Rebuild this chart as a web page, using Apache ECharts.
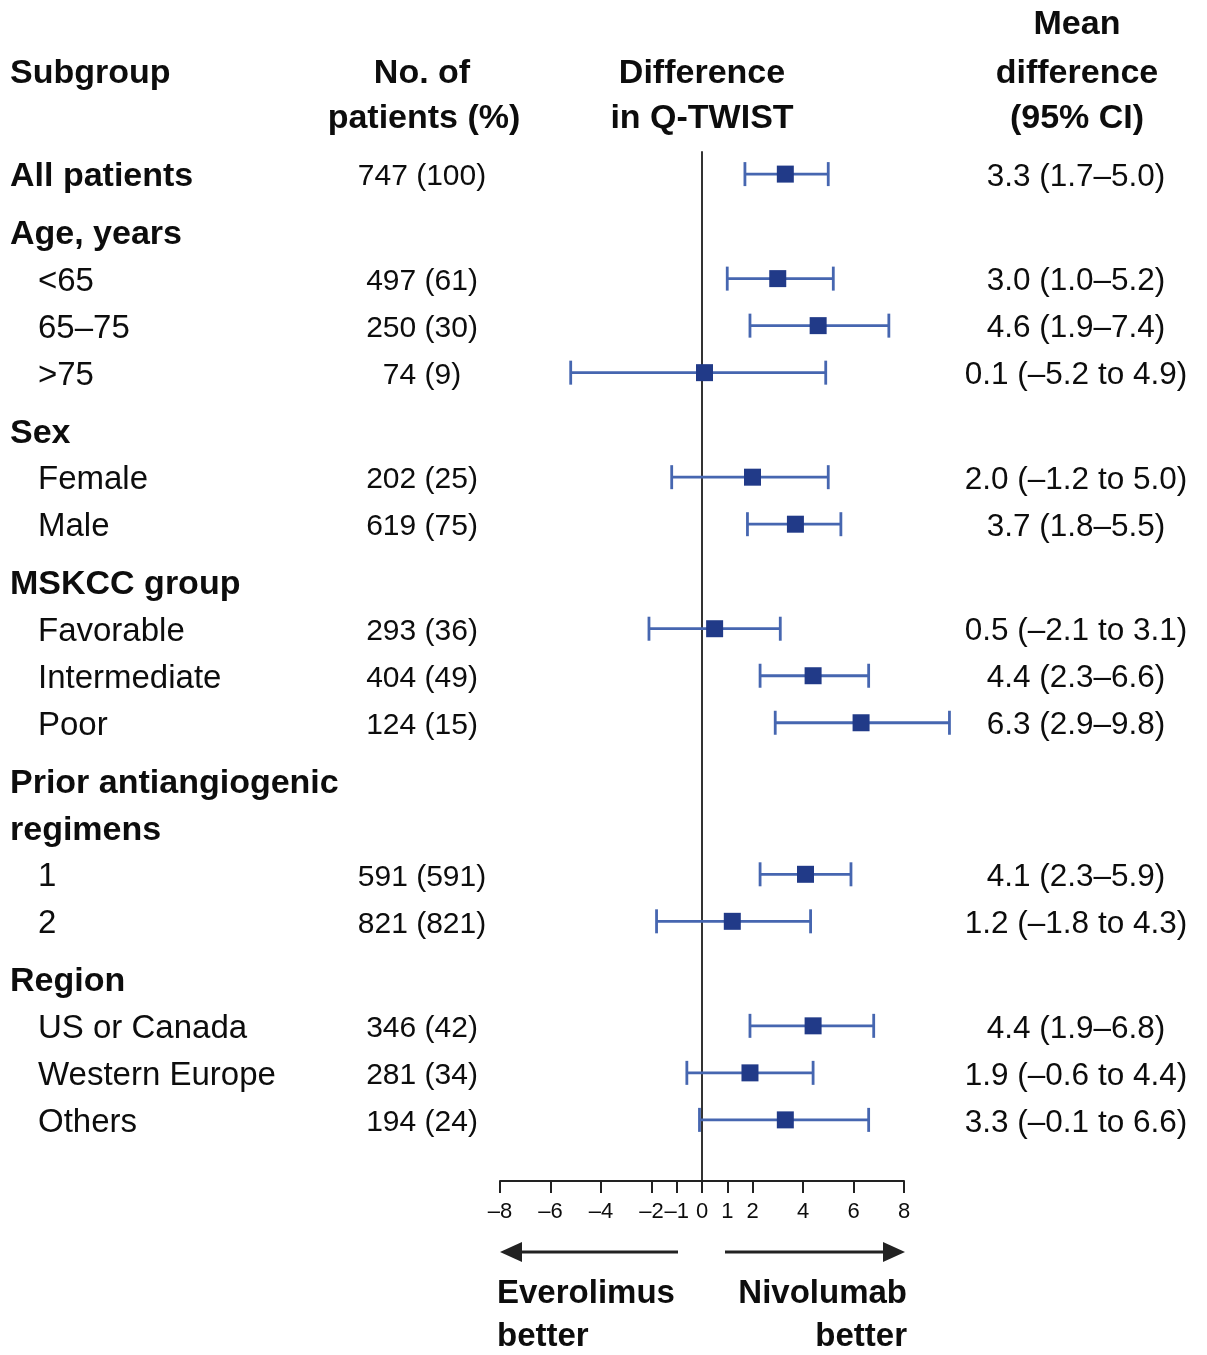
<!DOCTYPE html>
<html>
<head>
<meta charset="utf-8">
<script src="https://cdn.jsdelivr.net/npm/echarts@6/dist/echarts.min.js"></script>
<style>html,body{margin:0;padding:0;background:#fff;}#c{width:1207px;height:1355px;}</style>
</head>
<body>
<div id="c"></div>
<script>
// ---------------- data ----------------
const rowLabels = ['All patients','Age, years','<65','65–75','>75','Sex','Female','Male','MSKCC group','Favorable','Intermediate','Poor','Prior antiangiogenic','regimens','1','2','Region','US or Canada','Western Europe','Others'];
const rowKinds  = ['group','group','sub','sub','sub','group','sub','sub','group','sub','sub','sub','group','cont','sub','sub','group','sub','sub','sub'];
const patients  = ['747 (100)','','497 (61)','250 (30)','74 (9)','','202 (25)','619 (75)','','293 (36)','404 (49)','124 (15)','','','591 (591)','821 (821)','','346 (42)','281 (34)','194 (24)'];
const meanDiff  = [3.3,null,3.0,4.6,0.1,null,2.0,3.7,null,0.5,4.4,6.3,null,null,4.1,1.2,null,4.4,1.9,3.3];
const ciLow     = [1.7,null,1.0,1.9,-5.2,null,-1.2,1.8,null,-2.1,2.3,2.9,null,null,2.3,-1.8,null,1.9,-0.6,-0.1];
const ciHigh    = [5.0,null,5.2,7.4,4.9,null,5.0,5.5,null,3.1,6.6,9.8,null,null,5.9,4.3,null,6.8,4.4,6.6];
const tickValues = [-8,-6,-4,-2,-1,0,1,2,4,6,8];
const xMin = -8, xMax = 8;

// ---------------- layout helpers ----------------
const GAP = 0.223;           // extra space before each group heading (in row units)
let gaps = 0;
const rowPos = rowKinds.map((k, i) => { if (k === 'group' && i > 0) gaps++; return i + GAP * gaps; });
const yMin = -0.47, yMax = rowPos[rowPos.length - 1] + 1.3;

const FONT = '"Liberation Sans", Arial, Helvetica, sans-serif';
const TXT = '#0d0d0d';
const fmtNum = v => (v < 0 ? '–' + Math.abs(v).toFixed(1) : v.toFixed(1));
const ciText = rowLabels.map((_, i) => {
  if (meanDiff[i] == null) return '';
  const lo = ciLow[i], hi = ciHigh[i];
  return lo < 0
    ? meanDiff[i].toFixed(1) + ' (' + fmtNum(lo) + ' to ' + fmtNum(hi) + ')'
    : meanDiff[i].toFixed(1) + ' (' + fmtNum(lo) + '–' + fmtNum(hi) + ')';
});

const forestData = [];
rowLabels.forEach((_, i) => { if (meanDiff[i] != null) forestData.push([meanDiff[i], rowPos[i], ciLow[i], ciHigh[i]]); });

// text column drawn through the hidden full-width grid (x in px units, y = row position)
function textSeries(name, xPos, align, getText, getFont) {
  return {
    name, type: 'custom', xAxisIndex: 1, yAxisIndex: 1, silent: true, clip: false,
    data: rowLabels.map((_, i) => [typeof xPos === 'function' ? xPos(i) : xPos, rowPos[i], i]),
    renderItem: (params, api) => {
      const i = api.value(2);
      const p = api.coord([api.value(0), api.value(1)]);
      return { type: 'text', x: p[0], y: p[1] + 3,
        style: { text: getText(i), fill: TXT, font: getFont(i), align, verticalAlign: 'middle',
          textAlign: align, textVerticalAlign: 'middle' } };
    }
  };
}

function hdr(text, x, y, align, size) {
  return { type: 'text', style: { text, x, y, textAlign: align, align, textVerticalAlign: 'middle', verticalAlign: 'middle',
    font: 'bold ' + (size || 34) + 'px ' + FONT, fill: TXT } };
}

const chart = echarts.init(document.getElementById('c'), null, { renderer: 'canvas' });
chart.setOption({
  backgroundColor: '#fff',
  animation: false,
  grid: [
    { left: 500, width: 404, top: 152, height: 1029 },
    { left: 0, right: 0, top: 152, height: 1029 }
  ],
  xAxis: [
    { type: 'value', gridIndex: 0, min: xMin, max: xMax,
      axisLine: { show: true, onZero: false, lineStyle: { color: '#222', width: 2 } },
      axisTick: { show: true, customValues: tickValues, length: 12, lineStyle: { color: '#222', width: 2 } },
      axisLabel: { show: true, customValues: tickValues, margin: 20, fontSize: 22, color: TXT, fontFamily: FONT,
        formatter: v => (v < 0 ? '–' + Math.abs(v) : String(v)) },
      splitLine: { show: false } },
    { type: 'value', gridIndex: 1, min: 0, max: 1207, show: false }
  ],
  yAxis: [
    { type: 'value', gridIndex: 0, inverse: true, min: yMin, max: yMax,
      axisLine: { show: true, onZero: true, lineStyle: { color: '#333', width: 2 } },
      axisTick: { show: false }, axisLabel: { show: false }, splitLine: { show: false } },
    { type: 'value', gridIndex: 1, inverse: true, min: yMin, max: yMax, show: false }
  ],
  series: [
    { type: 'custom', xAxisIndex: 0, yAxisIndex: 0, data: forestData, clip: false, z: 3,
      renderItem: (params, api) => {
        const y = api.coord([0, api.value(1)])[1];
        const x1 = api.coord([api.value(2), 0])[0];
        const x2 = api.coord([api.value(3), 0])[0];
        const st = { stroke: '#4666b0', lineWidth: 2.8 };
        return { type: 'group', children: [
          { type: 'line', shape: { x1, y1: y, x2, y2: y }, style: st },
          { type: 'line', shape: { x1, y1: y - 12, x2: x1, y2: y + 12 }, style: st },
          { type: 'line', shape: { x1: x2, y1: y - 12, x2, y2: y + 12 }, style: st }
        ] };
      } },
    { type: 'scatter', xAxisIndex: 0, yAxisIndex: 0, symbol: 'rect', symbolSize: 17, z: 4,
      itemStyle: { color: '#213a88', opacity: 1 }, data: forestData.map(d => [d[0], d[1]]) },
    textSeries('labels', i => (rowKinds[i] === 'sub' ? 38 : 10), 'left', i => rowLabels[i],
      i => (rowKinds[i] === 'sub' ? '33px ' + FONT : 'bold 34px ' + FONT)),
    textSeries('patients', 422, 'center', i => patients[i], () => '30px ' + FONT),
    textSeries('ci', 1076, 'center', i => ciText[i], () => '31.5px ' + FONT)
  ],
  graphic: [
    hdr('Subgroup', 10, 74, 'left'),
    hdr('No. of', 422, 74, 'center'),
    hdr('patients (%)', 424, 119, 'center'),
    hdr('Difference', 702, 74, 'center'),
    hdr('in Q-TWIST', 702, 119, 'center'),
    hdr('Mean', 1077, 25, 'center'),
    hdr('difference', 1077, 74, 'center'),
    hdr('(95% CI)', 1077, 119, 'center'),
    { type: 'line', shape: { x1: 515, y1: 1252, x2: 678, y2: 1252 }, style: { stroke: '#222', lineWidth: 3 } },
    { type: 'polygon', shape: { points: [[500, 1252], [522, 1242], [522, 1262]] }, style: { fill: '#222' } },
    { type: 'line', shape: { x1: 725, y1: 1252, x2: 890, y2: 1252 }, style: { stroke: '#222', lineWidth: 3 } },
    { type: 'polygon', shape: { points: [[905, 1252], [883, 1242], [883, 1262]] }, style: { fill: '#222' } },
    hdr('Everolimus', 497, 1294, 'left', 33),
    hdr('better', 497, 1337, 'left', 33),
    hdr('Nivolumab', 907, 1294, 'right', 33),
    hdr('better', 907, 1337, 'right', 33)
  ]
});
</script>
</body>
</html>
